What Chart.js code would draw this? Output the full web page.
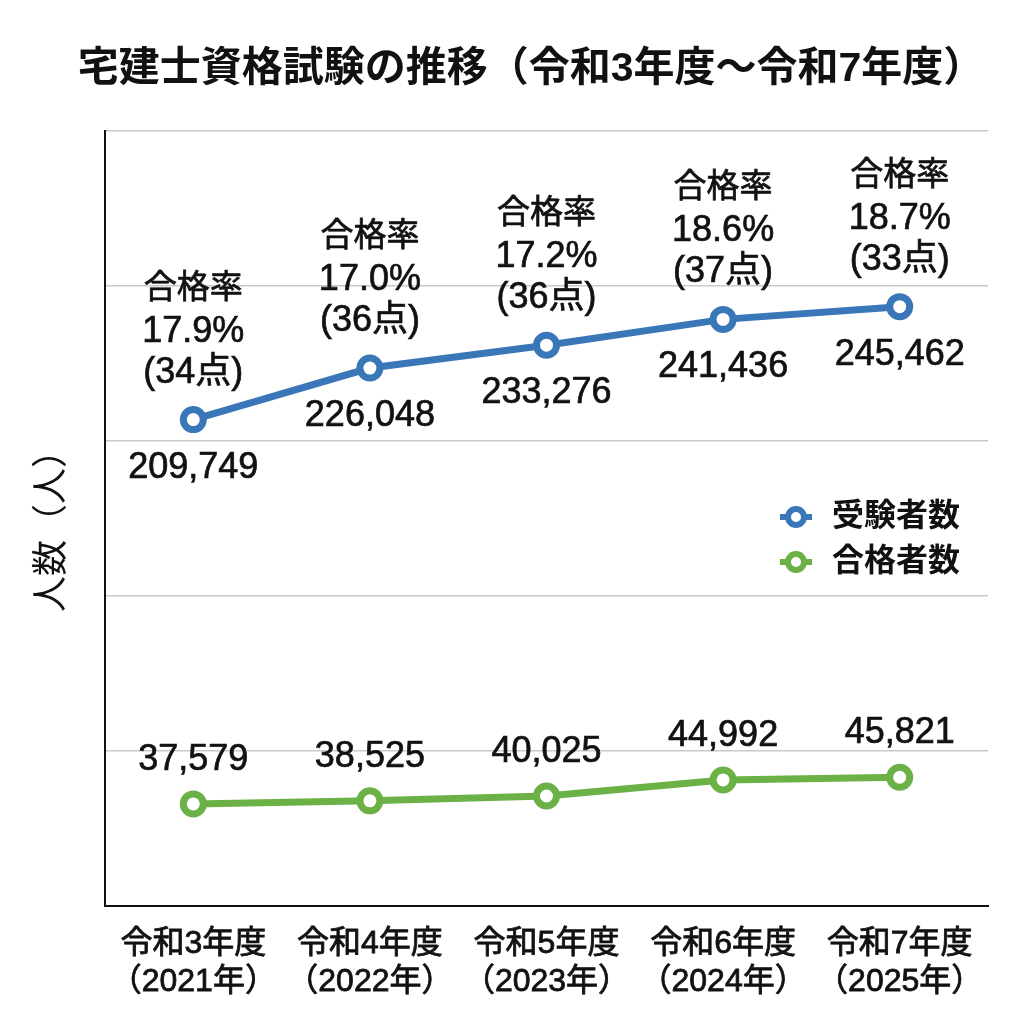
<!DOCTYPE html>
<html lang="ja">
<head>
  <meta charset="UTF-8" />
  <title>宅建士資格試験の推移</title>
  <script src="https://cdn.jsdelivr.net/npm/chart.js"></script>
  <style>
    body {
      margin: 0;
      background: #fff;
    }
    .wrap {
      width: 1024px;
      height: 1024px;
    }
  </style>
</head>
<body>
  <div class="wrap">
    <canvas id="chart" width="1024" height="1024"></canvas>
  </div>

  <script>
    const years = [
      ['令和3年度', '（2021年）'],
      ['令和4年度', '（2022年）'],
      ['令和5年度', '（2023年）'],
      ['令和6年度', '（2024年）'],
      ['令和7年度', '（2025年）']
    ];
    const examinees = [209749, 226048, 233276, 241436, 245462];
    const passers = [37579, 38525, 40025, 44992, 45821];
    const passRates = [17.9, 17.0, 17.2, 18.6, 18.7];
    const passMarks = [34, 36, 36, 37, 33];

    const BLUE = '#3a77b9';
    const GREEN = '#6bb145';
    const FONT = '"Liberation Sans", "Noto Sans CJK JP", sans-serif';

    // 少し太めに見せる文字描画
    function label(ctx, text, x, y) {
      ctx.strokeText(text, x, y);
      ctx.fillText(text, x, y);
    }

    // 数値ラベル・合格率ラベル
    const valueLabels = {
      id: 'valueLabels',
      afterDatasetsDraw(chart) {
        const ctx = chart.ctx;
        ctx.save();
        ctx.fillStyle = '#111';
        ctx.strokeStyle = '#111';
        ctx.lineWidth = 0.7;
        ctx.textAlign = 'center';
        ctx.textBaseline = 'middle';

        chart.getDatasetMeta(0).data.forEach((pt, i) => {
          ctx.font = '36px ' + FONT;
          label(ctx, examinees[i].toLocaleString('en-US'), pt.x, pt.y + 48);
          label(ctx, passRates[i].toFixed(1) + '%', pt.x, pt.y - 88);
          label(ctx, '(' + passMarks[i] + '点)', pt.x, pt.y - 47);
          ctx.font = '33px ' + FONT;
          label(ctx, '合格率', pt.x, pt.y - 131);
        });

        ctx.font = '36px ' + FONT;
        chart.getDatasetMeta(1).data.forEach((pt, i) => {
          label(ctx, passers[i].toLocaleString('en-US'), pt.x, pt.y - 44);
        });
        ctx.restore();
      }
    };

    // タイトル・縦軸タイトル・凡例
    const decorations = {
      id: 'decorations',
      afterDraw(chart) {
        const ctx = chart.ctx;
        const area = chart.chartArea;
        ctx.save();
        ctx.fillStyle = '#111';
        ctx.textAlign = 'center';
        ctx.textBaseline = 'middle';

        ctx.font = 'bold 41px ' + FONT;
        ctx.fillText('宅建士資格試験の推移（令和3年度～令和7年度）', 531, 70);

        ctx.save();
        ctx.translate(53, 522);
        ctx.rotate(-Math.PI / 2);
        ctx.font = '36px ' + FONT;
        ctx.fillText('人数（人）', 0, 0);
        ctx.restore();

        const items = chart.data.datasets;
        items.forEach((ds, i) => {
          const x = area.right - 192;
          const y = 517 + i * 45;
          ctx.strokeStyle = ds.borderColor;
          ctx.lineWidth = 6;
          ctx.beginPath();
          ctx.moveTo(x - 16, y);
          ctx.lineTo(x + 16, y);
          ctx.stroke();
          ctx.beginPath();
          ctx.arc(x, y, 8, 0, Math.PI * 2);
          ctx.fillStyle = '#fff';
          ctx.fill();
          ctx.lineWidth = 6;
          ctx.stroke();
          ctx.fillStyle = '#111';
          ctx.textAlign = 'left';
          ctx.font = 'bold 32px ' + FONT;
          ctx.fillText(ds.label, x + 36, y);
        });
        ctx.restore();
      }
    };

    new Chart(document.getElementById('chart'), {
      type: 'line',
      data: {
        labels: years,
        datasets: [
          {
            label: '受験者数',
            data: examinees,
            yAxisID: 'y',
            borderColor: BLUE,
            backgroundColor: '#fff',
            borderWidth: 7,
            pointRadius: 10,
            pointBorderWidth: 7,
            pointBackgroundColor: '#fff',
            pointBorderColor: BLUE,
            tension: 0
          },
          {
            label: '合格者数',
            data: passers,
            yAxisID: 'y2',
            borderColor: GREEN,
            backgroundColor: '#fff',
            borderWidth: 7,
            pointRadius: 10,
            pointBorderWidth: 7,
            pointBackgroundColor: '#fff',
            pointBorderColor: GREEN,
            tension: 0
          }
        ]
      },
      options: {
        responsive: false,
        animation: false,
        layout: {
          padding: { left: 105, top: 131, right: 36, bottom: 4 }
        },
        plugins: {
          legend: { display: false },
          tooltip: { enabled: false }
        },
        scales: {
          x: {
            offset: true,
            grid: { display: false, drawTicks: false },
            border: { display: true, color: '#111', width: 2 },
            ticks: {
              color: '#111',
              padding: 19,
              textStrokeColor: '#111',
              textStrokeWidth: 0.8,
              font: { family: FONT, size: 32, lineHeight: 1.19 }
            }
          },
          y: {
            position: 'left',
            min: 56000,
            max: 301000,
            grid: { color: '#c9c9c9', lineWidth: 1.5, drawTicks: false },
            border: { display: true, color: '#111', width: 2 },
            ticks: { display: false, stepSize: 49000 }
          },
          y2: {
            display: false,
            position: 'right',
            min: 6000,
            max: 246000
          }
        }
      },
      plugins: [valueLabels, decorations]
    });
  </script>
</body>
</html>
